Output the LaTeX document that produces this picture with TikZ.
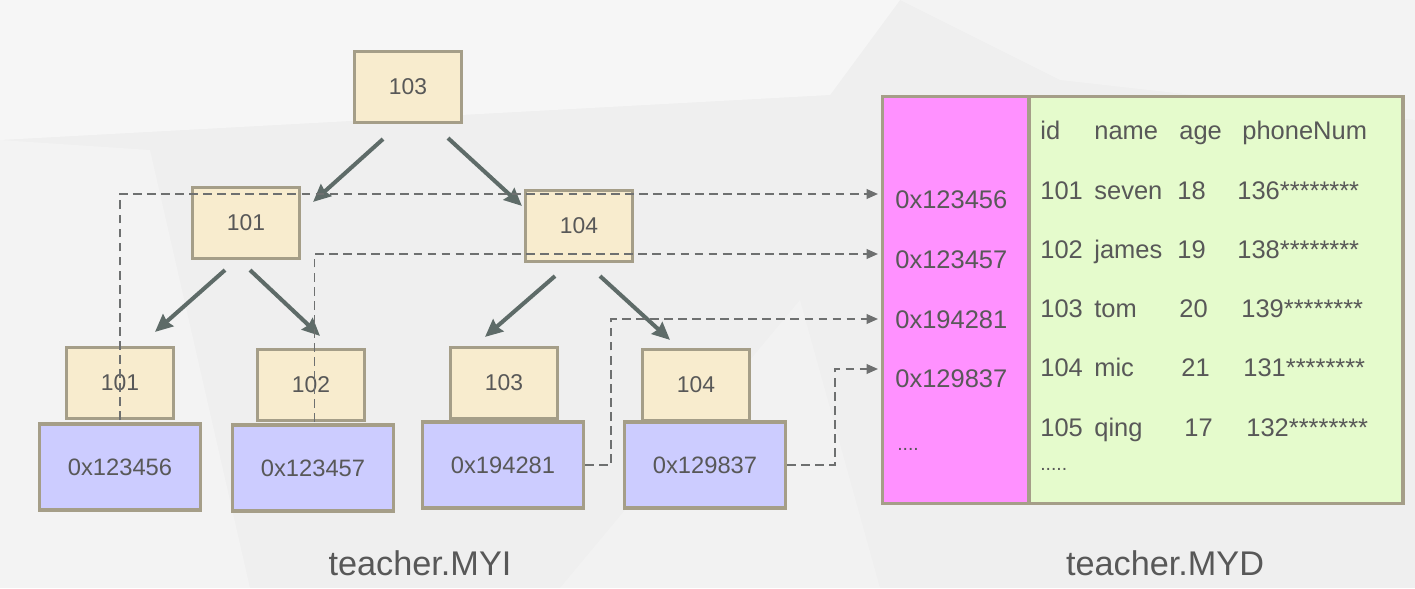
\documentclass[tikz,border=0pt]{standalone}
\usepackage{fontspec}
\setmainfont{Liberation Sans}
\usepackage{xcolor}
\usetikzlibrary{arrows.meta,calc,positioning}
\definecolor{bgcol}{HTML}{EFEFEF}
\definecolor{keyfill}{HTML}{F8ECCE}
\definecolor{addrfill}{HTML}{CCCCFF}
\definecolor{boxline}{HTML}{A59E88}
\definecolor{idxfill}{HTML}{FF91FF}
\definecolor{rowfill}{HTML}{E5FBCC}
\definecolor{arrowcol}{HTML}{5E6B68}
\definecolor{dashcol}{HTML}{6E7070}
\definecolor{celltext}{HTML}{585858}

\begin{document}
\begin{tikzpicture}[
    x=0.02cm, y=-0.02cm,
    keybox/.style={draw=boxline, line width=1.8pt, fill=keyfill, minimum width=2.14cm, minimum height=1.42cm, inner sep=0pt, text=celltext, font=\fontsize{13}{15}\selectfont},
    addrbox/.style={draw=boxline, line width=1.8pt, fill=addrfill, minimum width=3.22cm, minimum height=1.72cm, inner sep=0pt, text=celltext, font=\fontsize{13.5}{15}\selectfont},
    column/.style={draw=boxline, line width=1.8pt, minimum height=8.14cm, inner sep=0pt},
    tree/.style={draw=arrowcol, line width=2.3pt, -{Stealth[length=10pt,width=9pt,inset=1pt]}},
    ptr/.style={draw=dashcol, line width=1pt, dash pattern=on 5pt off 3pt, -{Triangle[length=6.5pt,width=5.5pt]}},
    cell/.style={anchor=west, inner sep=0pt, yshift=-1.7pt, text height=1.6ex, text depth=0.4ex, text=celltext, font=\fontsize{14.5}{16}\selectfont},
    title/.style={inner sep=0pt, text=celltext, font=\fontsize{19.5}{22}\selectfont}
]
\useasboundingbox (0,0) rectangle (1415,588);
\fill[bgcol] (0,0) rectangle (1415,588);
\fill[white, opacity=0.45] (0,0) -- (900,0) -- (830,95) -- (0,140) -- cycle;
\fill[white, opacity=0.25] (0,140) -- (150,150) -- (250,588) -- (0,588) -- cycle;
\fill[white, opacity=0.25] (900,0) -- (1415,0) -- (1415,120) -- (1060,80) -- cycle;
\fill[white, opacity=0.2] (560,588) -- (800,300) -- (880,588) -- cycle;

\node[keybox] (r103) at (408,87) {103};
\node[keybox] (m101) at (246,223) {101};
\node[keybox] (m104) at (579,226) {104};

\node[keybox] (l101) at (120,383) {101};
\node[keybox] (l102) at (311,385) {102};
\node[keybox] (l103) at (504,383) {103};
\node[keybox] (l104) at (696,385) {104};
\node[addrbox] (a1) at (120,467) {0x123456};
\node[addrbox] (a2) at (313,468) {0x123457};
\node[addrbox] (a3) at (503,465) {0x194281};
\node[addrbox] (a4) at (705,465) {0x129837};

\node[column, fill=idxfill, minimum width=2.94cm] (idx) at (956,300) {};
\node[column, fill=rowfill, minimum width=7.48cm] (rows) at (1216,300) {};

\node[cell] (p1) at (895,200) {0x123456};
\node[cell] (p2) at (895,260) {0x123457};
\node[cell] (p3) at (895,320) {0x194281};
\node[cell] (p4) at (895,379) {0x129837};
\node[cell, font=\fontsize{11}{12}\selectfont] (p5) at (897,442) {....};

\foreach \y/\id/\nm/\ax/\ag/\px/\ph in {
    131/id/name/1179/age/1242/phoneNum,
    191/101/seven/1177/18/1237/136********,
    250/102/james/1177/19/1237/138********,
    309/103/tom/1179/20/1241/139********,
    368/104/mic/1181/21/1243/131********,
    428/105/qing/1184/17/1246/132********} {
    \node[cell] at (1040,\y) {\id};
    \node[cell] at (1094,\y) {\nm};
    \node[cell] at (\ax,\y) {\ag};
    \node[cell] at (\px,\y) {\ph};
}
\node[cell, font=\fontsize{11}{12}\selectfont] (more) at (1040,462) {.....};

\draw[tree] ($(r103.south)+(-25,15)$) -- ($(m101.north east)+(12,16)$);
\draw[tree] ($(r103.south)+(40,14)$) -- ($(m104.north west)+(-2,17)$);
\draw[tree] ($(m101.south)+(-21,10)$) -- ($(l101.north)+(35,-14)$);
\draw[tree] ($(m101.south)+(4,10)$) -- ($(l102.north)+(9,-12)$);
\draw[tree] ($(m104.south)+(-24,13)$) -- ($(l103.north)+(-19,-9)$);
\draw[tree] ($(m104.south)+(21,13)$) -- ($(l104.north)+(-26,-8)$);

\coordinate (in1) at (878,194);
\coordinate (in2) at (878,254);
\coordinate (in3) at (878,319);
\coordinate (in4) at (878,369);
\draw[ptr] (l101.south) |- (in1);
\draw[ptr] ([xshift=2]l102.south) |- (in2);
\draw[ptr] (a3.east) -- ++(26,0) |- (in3);
\draw[ptr] (a4.east) -- ++(48,0) |- (in4);

\node[title] (myi) at (420,563) {teacher.MYI};
\node[title] (myd) at (1165,563) {teacher.MYD};
\end{tikzpicture}
\end{document}
